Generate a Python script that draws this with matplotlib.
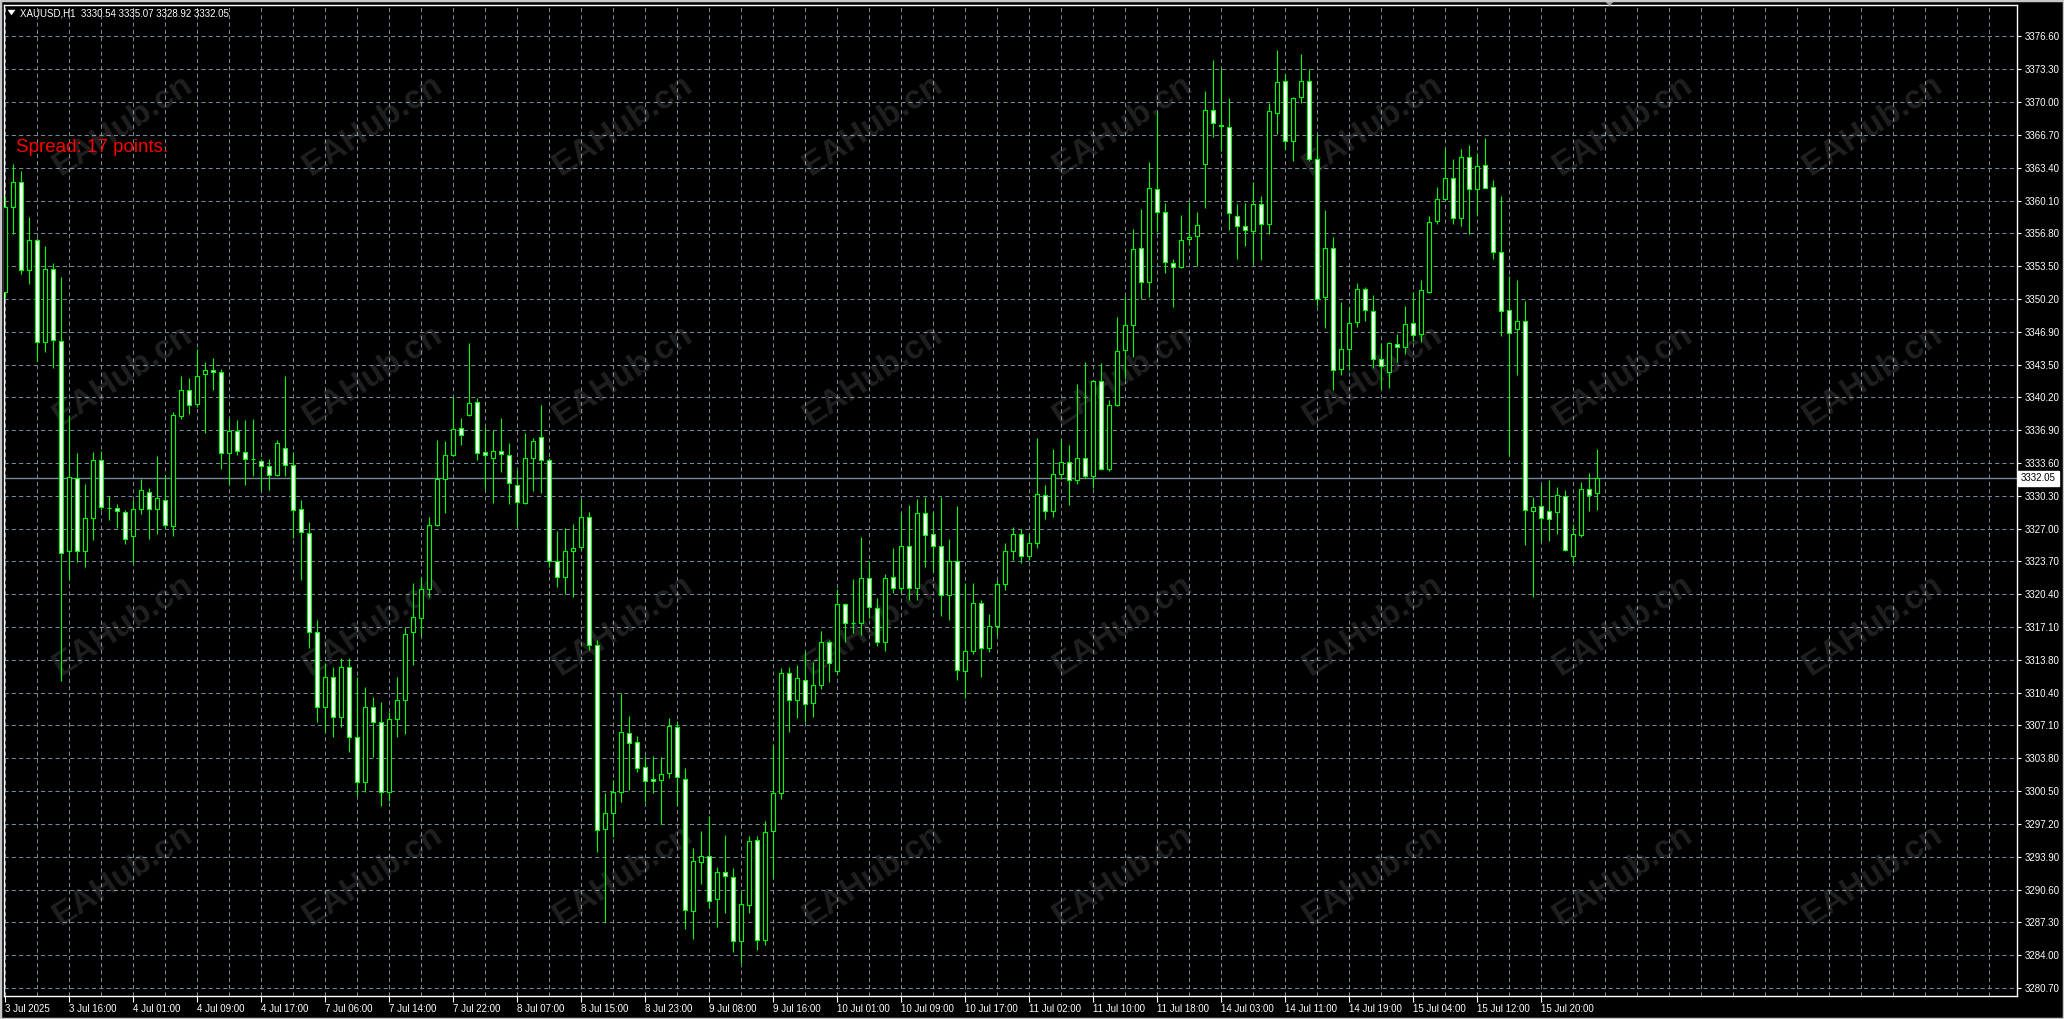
import matplotlib
matplotlib.use("Agg")
import matplotlib.pyplot as plt
import numpy as np
from matplotlib.patches import Rectangle, Polygon

plt.rcParams['font.family'] = ['Liberation Sans', 'DejaVu Sans']

# ---------------- data (XAUUSD H1) ----------------
opens = [3350.8, 3359.4, 3361.9, 3353.1, 3356.1, 3345.8, 3353.2, 3345.9, 3324.7, 3332.1,
         3324.7, 3328.1, 3333.9, 3329.1, 3329.1, 3328.7, 3326.3, 3329.0, 3330.7, 3329.0,
         3329.9, 3327.3, 3338.3, 3341.0, 3339.6, 3342.6, 3343.0, 3342.8, 3334.6, 3336.8,
         3334.7, 3334.0, 3333.8, 3333.3, 3332.4, 3335.1, 3333.4, 3329.0, 3326.6, 3316.6,
         3309.0, 3312.0, 3308.0, 3313.0, 3306.0, 3301.5, 3309.0, 3307.5, 3300.5, 3307.8,
         3309.7, 3316.6, 3318.0, 3320.9, 3327.4, 3332.0, 3334.4, 3337.1, 3338.4, 3339.8,
         3334.7, 3334.1, 3334.8, 3334.4, 3331.4, 3329.6, 3334.1, 3336.2, 3333.9, 3323.7,
         3322.1, 3324.7, 3325.1, 3328.2, 3315.3, 3296.7, 3298.3, 3300.5, 3306.4, 3305.5,
         3303.0, 3301.8, 3301.7, 3302.4, 3307.0, 3301.8, 3288.5, 3293.4, 3294.0, 3289.7,
         3292.4, 3291.9, 3285.4, 3289.1, 3295.6, 3285.5, 3296.5, 3300.3, 3312.4, 3309.7,
         3311.7, 3309.4, 3311.2, 3315.6, 3312.6, 3319.4, 3317.5, 3317.5, 3322.0, 3319.0,
         3315.6, 3322.1, 3321.0, 3325.2, 3321.0, 3328.6, 3326.5, 3325.2, 3320.3, 3323.7,
         3312.6, 3314.7, 3319.5, 3315.0, 3317.2, 3321.4, 3324.7, 3326.5, 3324.2, 3325.5,
         3330.4, 3328.8, 3332.5, 3333.7, 3331.9, 3334.1, 3332.3, 3341.9, 3333.0, 3339.5,
         3345.0, 3347.5, 3355.3, 3351.9, 3361.2, 3358.9, 3353.8, 3353.4, 3356.2, 3356.5,
         3363.7, 3369.2, 3367.7, 3367.5, 3358.5, 3357.5, 3357.0, 3359.7, 3357.7, 3368.9,
         3372.1, 3366.1, 3370.5, 3372.1, 3364.2, 3350.3, 3355.3, 3343.1, 3345.1, 3347.8,
         3351.1, 3348.9, 3344.1, 3342.8, 3345.6, 3345.3, 3347.7, 3346.6, 3350.8, 3358.0,
         3360.2, 3362.3, 3358.3, 3364.4, 3361.2, 3363.6, 3361.4, 3354.9, 3349.0, 3347.1,
         3347.9, 3328.8, 3329.3, 3328.8, 3328.7, 3330.3, 3324.2, 3326.4, 3331.0, 3330.54]
highs = [3360.5, 3363.7, 3363.0, 3358.4, 3356.3, 3355.5, 3353.8, 3352.4, 3338.4, 3334.6,
         3331.5, 3334.7, 3334.8, 3330.3, 3329.5, 3328.9, 3329.9, 3332.0, 3331.1, 3334.3,
         3332.4, 3338.8, 3342.4, 3342.2, 3345.1, 3343.8, 3344.2, 3343.1, 3338.1, 3337.9,
         3337.9, 3338.0, 3334.0, 3334.0, 3335.9, 3342.4, 3334.7, 3329.9, 3327.7, 3317.8,
         3313.5, 3313.0, 3314.0, 3314.0, 3312.0, 3311.0, 3310.0, 3309.5, 3308.5, 3312.0,
         3317.1, 3321.5, 3322.1, 3328.2, 3335.9, 3335.8, 3340.3, 3338.1, 3345.7, 3340.2,
         3337.2, 3336.9, 3338.1, 3335.6, 3332.9, 3336.6, 3336.1, 3339.5, 3334.1, 3326.8,
         3327.1, 3327.5, 3330.0, 3328.7, 3315.8, 3300.3, 3301.7, 3310.4, 3308.1, 3306.1,
         3304.1, 3304.1, 3304.0, 3307.9, 3307.6, 3302.9, 3294.8, 3296.5, 3298.0, 3292.9,
         3296.1, 3292.8, 3290.4, 3296.0, 3296.0, 3297.5, 3305.2, 3312.9, 3313.0, 3313.3,
         3314.6, 3313.6, 3316.7, 3315.8, 3320.9, 3319.5, 3321.9, 3326.2, 3323.7, 3320.0,
         3322.4, 3325.0, 3328.6, 3329.4, 3330.0, 3330.2, 3328.7, 3330.2, 3326.0, 3329.3,
         3321.5, 3321.5, 3319.8, 3318.4, 3321.8, 3325.5, 3327.2, 3327.0, 3326.5, 3336.1,
         3331.4, 3335.0, 3336.0, 3335.4, 3341.6, 3343.8, 3342.0, 3343.7, 3340.0, 3348.3,
         3350.4, 3357.2, 3359.2, 3363.9, 3368.9, 3359.8, 3354.2, 3358.6, 3359.9, 3358.9,
         3371.1, 3374.2, 3373.4, 3370.4, 3359.7, 3359.8, 3361.9, 3360.5, 3369.9, 3375.2,
         3372.8, 3370.5, 3374.8, 3373.3, 3366.7, 3359.1, 3356.4, 3349.8, 3349.3, 3351.8,
         3351.3, 3350.5, 3345.7, 3345.8, 3346.6, 3349.4, 3350.8, 3352.1, 3358.5, 3361.4,
         3365.4, 3364.2, 3365.3, 3365.7, 3364.9, 3366.4, 3362.1, 3360.5, 3352.5, 3352.1,
         3349.9, 3330.2, 3331.4, 3331.9, 3331.2, 3330.9, 3327.5, 3331.7, 3332.6, 3335.07]
lows = [3350.2, 3356.7, 3352.7, 3351.7, 3343.9, 3344.8, 3343.2, 3311.6, 3321.9, 3323.6,
        3323.1, 3325.8, 3328.9, 3327.9, 3327.1, 3325.4, 3323.5, 3328.5, 3325.9, 3326.5,
        3327.1, 3326.3, 3338.0, 3338.5, 3339.3, 3336.6, 3341.0, 3333.0, 3331.5, 3334.4,
        3331.4, 3332.3, 3330.9, 3330.9, 3332.3, 3332.3, 3326.1, 3321.8, 3315.0, 3307.5,
        3306.5, 3306.0, 3307.0, 3304.5, 3300.0, 3300.5, 3304.0, 3299.0, 3299.5, 3306.0,
        3306.3, 3313.3, 3316.2, 3320.1, 3327.3, 3328.6, 3334.3, 3335.4, 3338.3, 3333.9,
        3331.0, 3329.6, 3332.7, 3329.5, 3327.3, 3329.5, 3330.8, 3330.6, 3323.1, 3321.1,
        3320.4, 3320.1, 3324.8, 3314.8, 3294.4, 3287.3, 3295.9, 3299.4, 3300.7, 3302.5,
        3299.4, 3300.3, 3297.2, 3301.9, 3299.1, 3286.6, 3285.6, 3291.2, 3288.8, 3286.8,
        3288.3, 3284.3, 3283.2, 3288.3, 3284.5, 3285.0, 3291.8, 3299.7, 3306.5, 3307.9,
        3307.5, 3308.0, 3310.8, 3311.5, 3312.3, 3315.6, 3316.5, 3316.3, 3318.0, 3315.2,
        3314.7, 3320.5, 3320.5, 3319.8, 3319.8, 3323.1, 3322.6, 3318.2, 3317.8, 3311.7,
        3309.9, 3314.4, 3312.0, 3314.6, 3316.3, 3320.8, 3323.8, 3323.5, 3323.8, 3325.0,
        3328.0, 3328.2, 3332.0, 3329.4, 3331.5, 3332.1, 3331.1, 3332.9, 3332.8, 3339.4,
        3342.1, 3344.3, 3350.1, 3350.3, 3356.9, 3352.8, 3349.3, 3353.3, 3355.6, 3353.5,
        3359.3, 3366.5, 3365.1, 3357.1, 3354.2, 3355.5, 3353.8, 3354.1, 3356.7, 3366.8,
        3365.3, 3364.0, 3369.9, 3364.0, 3349.4, 3347.2, 3341.0, 3342.5, 3343.0, 3347.3,
        3347.9, 3343.2, 3341.1, 3341.2, 3343.8, 3344.6, 3345.9, 3345.8, 3350.7, 3357.7,
        3360.1, 3357.7, 3357.5, 3356.7, 3358.6, 3361.3, 3354.2, 3346.4, 3334.3, 3342.5,
        3325.3, 3320.1, 3325.7, 3325.7, 3326.5, 3324.7, 3323.5, 3326.2, 3328.8, 3328.92]
closes = [3359.4, 3361.9, 3353.1, 3356.1, 3345.8, 3353.2, 3346.0, 3324.5, 3332.2, 3324.7,
          3328.1, 3333.9, 3329.2, 3329.1, 3328.8, 3326.0, 3329.0, 3330.9, 3329.0, 3330.1,
          3327.4, 3338.4, 3341.0, 3339.5, 3342.4, 3343.0, 3342.8, 3334.6, 3336.8, 3334.8,
          3334.0, 3334.0, 3333.3, 3332.4, 3335.6, 3333.4, 3328.9, 3326.7, 3316.6, 3309.0,
          3312.0, 3308.0, 3313.0, 3306.0, 3301.5, 3309.0, 3307.5, 3300.5, 3307.8, 3309.7,
          3316.4, 3318.1, 3320.9, 3327.4, 3332.0, 3334.4, 3337.0, 3336.4, 3339.7, 3334.6,
          3334.4, 3334.8, 3334.5, 3331.6, 3329.7, 3334.1, 3335.8, 3333.9, 3323.7, 3322.1,
          3324.7, 3325.0, 3328.2, 3315.3, 3296.6, 3298.3, 3300.5, 3306.5, 3305.4, 3302.9,
          3301.6, 3301.6, 3302.3, 3307.1, 3302.0, 3288.6, 3293.5, 3294.0, 3289.5, 3292.4,
          3292.0, 3285.4, 3289.2, 3295.5, 3285.5, 3296.4, 3300.3, 3312.4, 3309.7, 3311.9,
          3309.3, 3311.2, 3315.6, 3313.5, 3319.4, 3317.5, 3317.5, 3322.0, 3319.1, 3315.6,
          3322.0, 3321.0, 3325.2, 3321.0, 3328.6, 3326.4, 3325.2, 3320.3, 3323.7, 3312.7,
          3314.7, 3319.5, 3315.0, 3317.2, 3321.4, 3324.7, 3326.5, 3324.2, 3325.5, 3330.5,
          3328.8, 3332.5, 3333.7, 3331.9, 3334.1, 3332.3, 3341.9, 3333.0, 3339.5, 3344.9,
          3347.5, 3355.2, 3351.9, 3361.3, 3358.9, 3353.9, 3353.4, 3356.1, 3356.4, 3357.6,
          3369.2, 3367.9, 3367.6, 3358.8, 3357.5, 3357.1, 3359.7, 3357.7, 3369.1, 3372.0,
          3366.1, 3370.4, 3372.1, 3364.2, 3350.1, 3355.3, 3343.0, 3345.1, 3347.7, 3351.1,
          3349.0, 3344.1, 3343.4, 3345.7, 3345.3, 3347.6, 3346.5, 3351.0, 3357.9, 3360.2,
          3362.3, 3358.3, 3364.4, 3361.2, 3363.5, 3361.3, 3354.9, 3348.9, 3346.7, 3347.9,
          3328.9, 3329.2, 3328.1, 3328.0, 3330.4, 3324.8, 3326.5, 3331.0, 3330.4, 3332.05]

price_ticks = [3376.60 - 3.3069 * i for i in range(30)]
price_labels = ["3376.60", "3373.30", "3370.00", "3366.70", "3363.40", "3360.10",
                "3356.80", "3353.50", "3350.20", "3346.90", "3343.50", "3340.20",
                "3336.90", "3333.60", "3330.30", "3327.00", "3323.70", "3320.40",
                "3317.10", "3313.80", "3310.40", "3307.10", "3303.80", "3300.50",
                "3297.20", "3293.90", "3290.60", "3287.30", "3284.00", "3280.70"]
time_labels = ["3 Jul 2025", "3 Jul 16:00", "4 Jul 01:00", "4 Jul 09:00", "4 Jul 17:00",
               "7 Jul 06:00", "7 Jul 14:00", "7 Jul 22:00", "8 Jul 07:00", "8 Jul 15:00",
               "8 Jul 23:00", "9 Jul 08:00", "9 Jul 16:00", "10 Jul 01:00", "10 Jul 09:00",
               "10 Jul 17:00", "11 Jul 02:00", "11 Jul 10:00", "11 Jul 18:00", "14 Jul 03:00",
               "14 Jul 11:00", "14 Jul 19:00", "15 Jul 04:00", "15 Jul 12:00", "15 Jul 20:00"]
time_label_bars = list(range(0, 200, 8))
last_price = 3332.05
header = "XAUUSD,H1  3330.54 3335.07 3328.92 3332.05"
spread_text = "Spread: 17 points."
watermark = "EAHub.cn"

# ---------------- figure ----------------
W, H = 2064, 1019
fig = plt.figure(figsize=(W / 100, H / 100), dpi=100, facecolor='black')
L, R, T, B = 4, 2016.7, 5, 996
ax = fig.add_axes([L / W, 1 - B / H, (R - L) / W, (B - T) / H])
ax.set_facecolor('black')

GRID = '#778899'
LIME = '#00ff00'

ax.set_xlim(-0.1625, 251.425)
ax.set_ylim(3279.89, 3379.77)

# grid
for gx in range(0, 252, 4):
    ax.axvline(gx, color=GRID, lw=0.75, ls=(0, (4, 3)), zorder=1)
for gy in price_ticks:
    ax.axhline(gy, color=GRID, lw=0.75, ls=(0, (4, 3)), zorder=1)

# watermarks
for cy in [125, 375, 625, 875]:
    for cx in [123 + 250 * j for j in range(8)]:
        ax.text(cx / W, 1 - cy / H, watermark, transform=fig.transFigure,
                rotation=33, ha='center', va='center', fontsize=24,
                fontweight='bold', color=(1, 1, 1, 0.13), zorder=1.5,
                rotation_mode='anchor')

# current price line
ax.axhline(last_price, color=GRID, lw=1.0, zorder=2)

# candles
x = np.arange(len(opens))
o = np.array(opens); c = np.array(closes)
hi = np.array(highs); lo = np.array(lows)
ax.vlines(x, lo, hi, color=LIME, lw=0.8, zorder=3)
bottoms = np.minimum(o, c)
heights = np.abs(c - o)
fills = ['white' if cc < oo else 'black' for oo, cc in zip(o, c)]
ax.bar(x, heights, bottom=bottoms, width=0.5, color=fills, edgecolor=LIME,
       linewidth=0.8, zorder=4)

# axes styling
for s in ax.spines.values():
    s.set_color('white')
    s.set_linewidth(1.0)
ax.yaxis.tick_right()
ax.set_yticks(price_ticks)
ax.set_yticklabels(price_labels)
ax.set_xticks(time_label_bars)
ax.set_xticklabels(time_labels, ha='left')
ax.tick_params(axis='y', colors='white', labelcolor='white', length=3, width=0.8,
               pad=3, labelsize=7)
ax.tick_params(axis='x', colors='white', labelcolor='white', length=4, width=0.8,
               pad=2, labelsize=7)

# last price box
ax.annotate(f"{last_price:.2f}", xy=(1.0, last_price), xycoords=('axes fraction', 'data'),
            xytext=(3.2, 0), textcoords='offset points', va='center', ha='left',
            fontsize=7, color='black',
            bbox=dict(boxstyle='square,pad=0.3', fc='white', ec='white'), zorder=10,
            annotation_clip=False)

# header
fig.patches.append(Polygon([[8 / W, 1 - 10 / H], [15 / W, 1 - 10 / H], [11.5 / W, 1 - 15 / H]],
                           closed=True, transform=fig.transFigure, fc='white', ec='white', lw=0.3))
fig.text(20 / W, 1 - 13 / H, header, color='white', fontsize=7, va='center', ha='left')
fig.text(16 / W, 1 - 147 / H, spread_text, color='#ff0000', fontsize=13.5, va='center', ha='left')

# chart shift marker
fig.patches.append(Polygon([[1605 / W, 1 - 1 / H], [1614 / W, 1 - 1 / H], [1609.5 / W, 1 - 6 / H]],
                           closed=True, transform=fig.transFigure, fc='#9a9a9a', ec='#9a9a9a', lw=0.3))

# window frame
fig.patches.append(Rectangle((0, 0), 1, 1, transform=fig.transFigure, fill=False,
                             ec='#c8c8c8', lw=2.5))

fig.savefig('out.png', dpi=100, facecolor='black')
